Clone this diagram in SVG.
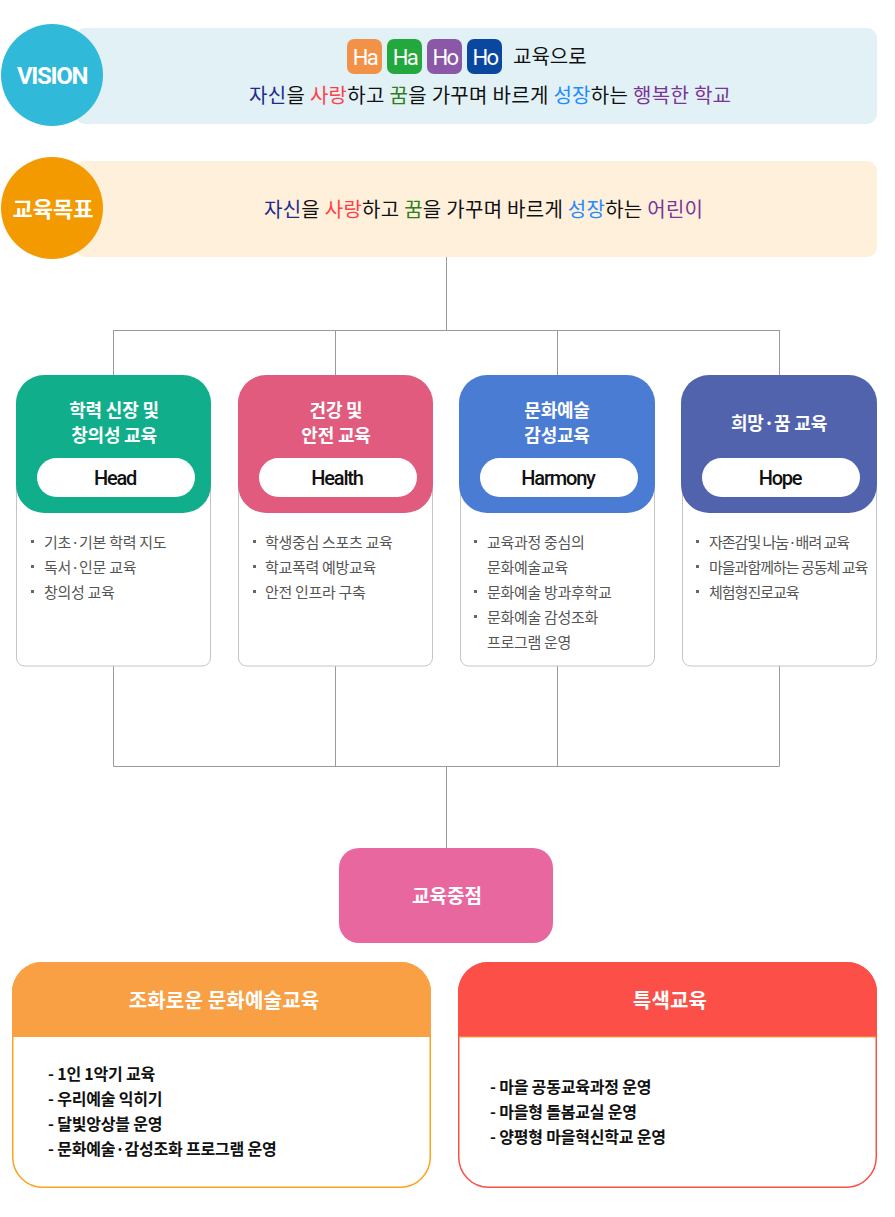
<svg xmlns="http://www.w3.org/2000/svg" width="895" height="1217" viewBox="0 0 895 1217">
<style>
.kr{font-family:"Noto Sans CJK KR","Noto Sans",sans-serif}
.en{font-family:Roboto,"Liberation Sans",sans-serif}
.ctitle{font-family:"Noto Sans CJK KR",sans-serif;font-size:18px;font-weight:700;fill:#fff;text-anchor:middle;letter-spacing:-0.2px}
.pill{fill:#fff}
.pilltxt{font-family:Roboto,"Liberation Sans",sans-serif;font-size:20px;font-weight:500;fill:#111;text-anchor:middle;letter-spacing:-1.2px}
.li{font-family:"Noto Sans CJK KR",sans-serif;font-size:15px;fill:#555;letter-spacing:-0.3px}
.li4{letter-spacing:-1px}
.bul{fill:#666}
.body{fill:#fff;stroke:#c4c4c4;stroke-width:1}
.conn{fill:none;stroke:#9a9a9a;stroke-width:1}
.bi{font-family:"Noto Sans CJK KR",sans-serif;font-size:16px;font-weight:700;fill:#111;letter-spacing:-0.2px}
.bh{font-family:"Noto Sans CJK KR",sans-serif;font-size:20px;font-weight:700;fill:#fff;text-anchor:middle;letter-spacing:0.2px}
.c1{fill:#1d2a8e}.c2{fill:#ff3f48}.c3{fill:#2e7d1a}.c4{fill:#1e8cff}.c5{fill:#7a3597}
</style>

<g id="connectors">
<path class="conn" d="M446.5,257 V330.5 M113.5,330.5 H779.5 M113.5,330 V375 M335.5,330 V375 M557.5,330 V375 M779.5,330 V375"/>
<path class="conn" d="M113.5,666 V766.5 M335.5,666 V766.5 M557.5,666 V766.5 M779.5,666 V766.5 M113.5,766.5 H779.5 M446.5,766.5 V848"/>
</g>

<g id="vision">
<rect x="75" y="28" width="802" height="96" rx="10" fill="#e2f1f6"/>
<circle cx="52" cy="75" r="51" fill="#30b9d9"/>
<text x="52" y="84" class="en" font-size="24" font-weight="700" fill="#fff" text-anchor="middle" letter-spacing="-1.3">VISION</text>
<rect x="347" y="39" width="35" height="35" rx="7" fill="#f29248"/>
<rect x="387" y="39" width="35" height="35" rx="7" fill="#22a83c"/>
<rect x="427" y="39" width="35" height="35" rx="7" fill="#8a58a6"/>
<rect x="467" y="39" width="35" height="35" rx="7" fill="#0a48a0"/>
<g class="en" font-size="22" fill="#fff" text-anchor="middle" letter-spacing="-1.5">
<text x="365" y="65">Ha</text><text x="405" y="65">Ha</text><text x="445" y="65">Ho</text><text x="485" y="65">Ho</text>
</g>
<text x="513" y="64" class="kr" font-size="20" fill="#111">교육으로</text>
<text x="249" y="103" class="kr" font-size="20" fill="#111" textLength="482" lengthAdjust="spacing"><tspan class="c1">자신</tspan>을 <tspan class="c2">사랑</tspan>하고 <tspan class="c3">꿈</tspan>을 가꾸며 바르게 <tspan class="c4">성장</tspan>하는 <tspan class="c5">행복한 학교</tspan></text>
</g>

<g id="goal">
<rect x="75" y="161" width="802" height="96" rx="10" fill="#fff0dc"/>
<circle cx="52" cy="208" r="51" fill="#f39a00"/>
<text x="53" y="217" class="kr" font-size="22" font-weight="700" fill="#fff" text-anchor="middle">교육목표</text>
<text x="264" y="217" class="kr" font-size="20" fill="#111" textLength="439" lengthAdjust="spacing"><tspan class="c1">자신</tspan>을 <tspan class="c2">사랑</tspan>하고 <tspan class="c3">꿈</tspan>을 가꾸며 바르게 <tspan class="c4">성장</tspan>하는 <tspan class="c5">어린이</tspan></text>
</g>

<g id="card-head">
<rect class="body" x="16.5" y="470" width="194" height="196" rx="8"/>
<rect x="16" y="375" width="195" height="138" rx="28" fill="#10ae8b"/>
<text class="ctitle" x="114" y="417">학력 신장 및</text>
<text class="ctitle" x="114" y="442">창의성 교육</text>
<rect class="pill" x="37" y="458" width="158" height="39" rx="19.5"/>
<text class="pilltxt" x="115" y="485">Head</text>
<rect class="bul" x="31" y="540" width="3" height="3"/><text class="li" x="44" y="548">기초·기본 학력 지도</text>
<rect class="bul" x="31" y="565" width="3" height="3"/><text class="li" x="44" y="573">독서·인문 교육</text>
<rect class="bul" x="31" y="590" width="3" height="3"/><text class="li" x="44" y="598">창의성 교육</text>
</g>

<g id="card-health">
<rect class="body" x="238.5" y="470" width="194" height="196" rx="8"/>
<rect x="238" y="375" width="195" height="138" rx="28" fill="#e05b7e"/>
<text class="ctitle" x="336" y="417">건강 및</text>
<text class="ctitle" x="336" y="442">안전 교육</text>
<rect class="pill" x="259" y="458" width="158" height="39" rx="19.5"/>
<text class="pilltxt" x="337" y="485">Health</text>
<rect class="bul" x="253" y="540" width="3" height="3"/><text class="li" x="265" y="548">학생중심 스포츠 교육</text>
<rect class="bul" x="253" y="565" width="3" height="3"/><text class="li" x="265" y="573">학교폭력 예방교육</text>
<rect class="bul" x="253" y="590" width="3" height="3"/><text class="li" x="265" y="598">안전 인프라 구축</text>
</g>

<g id="card-harmony">
<rect class="body" x="460.5" y="470" width="194" height="196" rx="8"/>
<rect x="459" y="375" width="196" height="138" rx="28" fill="#4b7cd3"/>
<text class="ctitle" x="557" y="417">문화예술</text>
<text class="ctitle" x="557" y="442">감성교육</text>
<rect class="pill" x="480" y="458" width="158" height="39" rx="19.5"/>
<text class="pilltxt" x="558" y="485">Harmony</text>
<rect class="bul" x="474" y="540" width="3" height="3"/><text class="li" x="487" y="548">교육과정 중심의</text>
<text class="li" x="487" y="573">문화예술교육</text>
<rect class="bul" x="474" y="590" width="3" height="3"/><text class="li" x="487" y="598">문화예술 방과후학교</text>
<rect class="bul" x="474" y="615" width="3" height="3"/><text class="li" x="487" y="623">문화예술 감성조화</text>
<text class="li" x="487" y="648">프로그램 운영</text>
</g>

<g id="card-hope">
<rect class="body" x="682.5" y="470" width="194" height="196" rx="8"/>
<rect x="681" y="375" width="196" height="138" rx="28" fill="#5163ad"/>
<text class="ctitle" x="779" y="430">희망·꿈 교육</text>
<rect class="pill" x="702" y="458" width="158" height="39" rx="19.5"/>
<text class="pilltxt" x="780" y="485">Hope</text>
<rect class="bul" x="696" y="540" width="3" height="3"/><text class="li li4" x="709" y="548">자존감및 나눔·배려 교육</text>
<rect class="bul" x="696" y="565" width="3" height="3"/><text class="li li4" x="709" y="573">마을과함께하는 공동체 교육</text>
<rect class="bul" x="696" y="590" width="3" height="3"/><text class="li li4" x="709" y="598">체험형진로교육</text>
</g>

<g id="focus">
<rect x="339" y="848" width="214" height="95" rx="20" fill="#e8679f"/>
<text x="447" y="903" class="kr" font-size="19" font-weight="700" fill="#fff" text-anchor="middle">교육중점</text>
</g>

<g id="arts">
<rect x="12.75" y="962.75" width="417.5" height="224.5" rx="30" fill="#fff" stroke="#fca21e" stroke-width="1.5"/>
<path d="M12,1037 V992 A30,30 0 0 1 42,962 H401 A30,30 0 0 1 431,992 V1037 Z" fill="#f9a045"/>
<text class="bh" x="224" y="1008">조화로운 문화예술교육</text>
<text class="bi" x="48" y="1080">- 1인 1악기 교육</text>
<text class="bi" x="48" y="1105">- 우리예술 익히기</text>
<text class="bi" x="48" y="1130">- 달빛앙상블 운영</text>
<text class="bi" x="48" y="1155">- 문화예술·감성조화 프로그램 운영</text>
</g>

<g id="special">
<rect x="458.75" y="962.75" width="417.5" height="224.5" rx="30" fill="#fff" stroke="#fa5048" stroke-width="1.5"/>
<path d="M458,1037 V992 A30,30 0 0 1 488,962 H847 A30,30 0 0 1 877,992 V1037 Z" fill="#fb4f48"/>
<line x1="459" y1="1037" x2="876" y2="1037" stroke="#fba040" stroke-width="1"/>
<text class="bh" x="670" y="1008">특색교육</text>
<text class="bi" x="490" y="1093">- 마을 공동교육과정 운영</text>
<text class="bi" x="490" y="1118">- 마을형 돌봄교실 운영</text>
<text class="bi" x="490" y="1143">- 양평형 마을혁신학교 운영</text>
</g>
</svg>
